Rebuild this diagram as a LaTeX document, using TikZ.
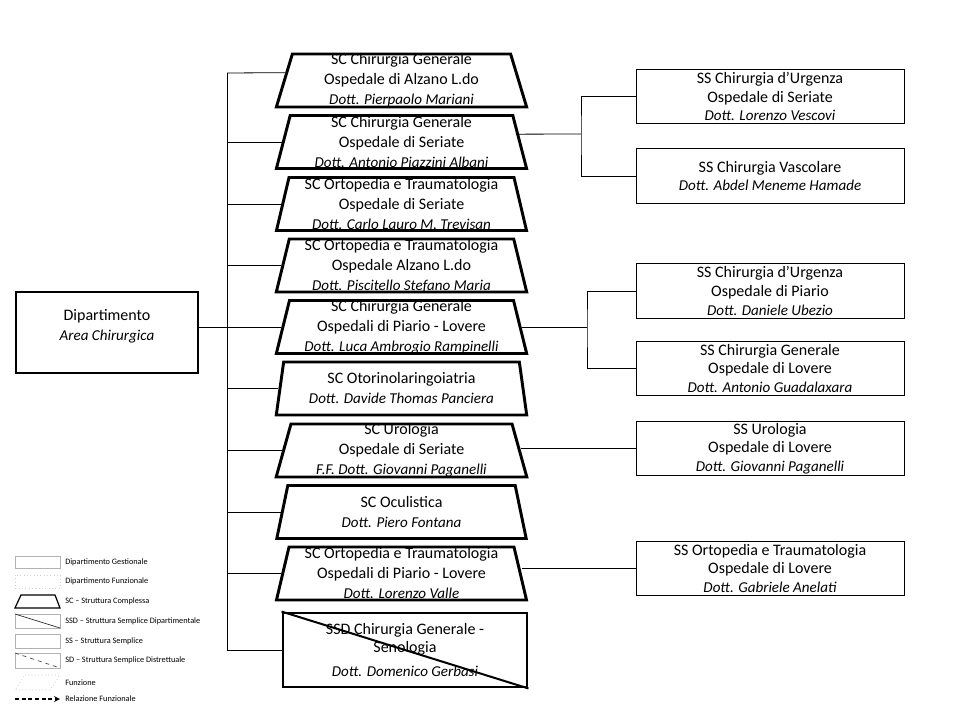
\documentclass[tikz,border=0pt]{standalone}
\usepackage{fontspec}
\setmainfont{Carlito}
\usetikzlibrary{shapes.geometric,calc}
\newcommand{\medico}[1]{{\fontsize{11.3}{14}\selectfont\itshape #1}}
\tikzset{
    sc-box/.style = {draw, line width=2.2pt, trapezium, trapezium stretches=true, trapezium angle=76, minimum width=188pt, minimum height=39.75pt, inner xsep=0pt, inner ysep=-3pt, align=center, font=\fontsize{12}{15}\selectfont, execute at begin node={\rule{0pt}{13pt}}},
    ssd-box/.style = {draw, line width=2.2pt, rectangle, minimum width=183pt, minimum height=55.5pt, inner sep=0pt, align=center},
    ss-box/.style = {draw, line width=0.75pt, rectangle, minimum width=201pt, minimum height=41pt, inner xsep=0pt, inner ysep=0pt, align=center},
    dept-box/.style = {draw, line width=2.2pt, rectangle, minimum width=136.5pt, minimum height=60.75pt, align=center},
    link/.style = {line width=0.6pt},
    legend-shape/.style = {draw=gray!60, line width=0.5pt},
    legend-text/.style = {anchor=west, inner sep=0pt, font=\fontsize{6.2}{7}\selectfont},
}

\begin{document}
\begin{tikzpicture}[x=0.75pt, y=-0.75pt, font=\fontsize{12}{14}\selectfont]
\useasboundingbox (0,0) rectangle (960,720);

% dipartimento
\node[dept-box] (dept) at (107,332.5) {Dipartimento\\[1pt]\medico{Area Chirurgica}\\[-2pt]\mbox{}};

% strutture complesse
\node[sc-box] (chir-alzano) at (401.5,80.5) {SC Chirurgia Generale\\Ospedale di Alzano L.do\\\medico{Dott. Pierpaolo Mariani}};
\node[sc-box] (chir-seriate) at (401.5,142) {SC Chirurgia Generale\\Ospedale di Seriate\\\medico{Dott. Antonio Piazzini Albani}};
\node[sc-box] (orto-seriate) at (401.5,204) {SC Ortopedia e Traumatologia\\Ospedale di Seriate\\\medico{Dott. Carlo Lauro M. Trevisan}};
\node[sc-box] (orto-alzano) at (401.5,265.5) {SC Ortopedia e Traumatologia\\Ospedale Alzano L.do\\\medico{Dott. Piscitello Stefano Maria}};
\node[sc-box] (chir-piario) at (401.5,327) {SC Chirurgia Generale\\Ospedali di Piario - Lovere\\\medico{Dott. Luca Ambrogio Rampinelli}};
\node[sc-box] (otorino) at (401.5,388.5) {SC Otorinolaringoiatria\\\medico{Dott. Davide Thomas Panciera}};
\node[sc-box] (uro-seriate) at (401.5,450.5) {SC Urologia\\Ospedale di Seriate\\\medico{F.F. Dott. Giovanni Paganelli}};
\node[sc-box] (oculistica) at (401.5,512) {SC Oculistica\\\medico{Dott. Piero Fontana}};
\node[sc-box] (orto-piario) at (401.5,573.5) {SC Ortopedia e Traumatologia\\Ospedali di Piario - Lovere\\\medico{Dott. Lorenzo Valle}};
\node[ssd-box] (senologia) at (405,650) {SSD Chirurgia Generale -\\Senologia\\[4pt]\medico{Dott. Domenico Gerbasi}};
\draw[line width=1.5pt] (senologia.north west) -- (senologia.south east);

% strutture semplici
\node[ss-box] (urg-seriate) at (770,96.5) {SS Chirurgia d’Urgenza\\Ospedale di Seriate\\\medico{Dott. Lorenzo Vescovi}};
\node[ss-box] (vascolare) at (770,176) {SS Chirurgia Vascolare\\\medico{Dott. Abdel Meneme Hamade}};
\node[ss-box] (urg-piario) at (770,291) {SS Chirurgia d’Urgenza\\Ospedale di Piario\\\medico{Dott. Daniele Ubezio}};
\node[ss-box] (chir-lovere) at (770,368.5) {SS Chirurgia Generale\\Ospedale di Lovere\\\medico{Dott. Antonio Guadalaxara}};
\node[ss-box] (uro-lovere) at (770,448.5) {SS Urologia\\Ospedale di Lovere\\\medico{Dott. Giovanni Paganelli}};
\node[ss-box] (orto-lovere) at (770,568.5) {SS Ortopedia e Traumatologia\\Ospedale di Lovere\\\medico{Dott. Gabriele Anelati}};

% collegamenti
\coordinate (spine-top) at (227,73);
\draw[link] (spine-top) -- ($(chir-alzano.top left corner)!0.36!(chir-alzano.bottom left corner)$);
\draw[link] (spine-top) -- (spine-top |- senologia.west) -- (senologia.west);
\foreach \n in {chir-seriate, orto-seriate, orto-alzano, chir-piario, otorino, uro-seriate, oculistica, orto-piario}
    \draw[link] (\n.left side) -- (\n.left side -| spine-top);
\draw[link] (dept.east |- chir-piario.left side) -- (chir-piario.left side);

\coordinate (branch-seriate) at (581,134);
\draw[link] ($(chir-seriate.top right corner)!0.36!(chir-seriate.bottom right corner)$) -- (branch-seriate);
\draw[link] (urg-seriate.west) -| (branch-seriate) |- (vascolare.west);

\coordinate (branch-piario) at (587,327);
\draw[link] (chir-piario.right side) -- (chir-piario.right side -| branch-piario);
\draw[link] (urg-piario.west) -| (branch-piario) |- (chir-lovere.west);

\draw[link] (uro-lovere.west) -- (uro-lovere.west -| uro-seriate.right side);
\draw[link] (orto-lovere.west) -- (orto-lovere.west -| orto-piario.right side);

% legenda
\draw[legend-shape] (15,556) rectangle (60,568);
\node[legend-text] (leg-gest) at (65,562) {Dipartimento Gestionale};
\draw[legend-shape, draw=gray!35, dotted] (15,575) rectangle (60,588);
\node[legend-text] (leg-funz) at (65,581.5) {Dipartimento Funzionale};
\draw[line width=0.9pt] (21,595) -- (55,595) -- (60,608) -- (15,608) -- cycle;
\node[legend-text] (leg-sc) at (65,601.5) {SC – Struttura Complessa};
\draw[legend-shape] (15,614) rectangle (60,628);
\draw[line width=0.5pt, gray!30!black] (15,614) -- (60,628);
\node[legend-text] (leg-ssd) at (65,621) {SSD – Struttura Semplice Dipartimentale};
\draw[legend-shape] (15,634) rectangle (60,648);
\node[legend-text] (leg-ss) at (65,641) {SS – Struttura Semplice};
\draw[legend-shape] (15,653) rectangle (60,668);
\draw[line width=0.5pt, gray!60!black, dashed] (15,653) -- (60,668);
\node[legend-text] (leg-sd) at (65,660.5) {SD – Struttura Semplice Distrettuale};
\draw[legend-shape, dotted] (25,675) -- (60,675) -- (50,690) -- (15,690) -- cycle;
\node[legend-text] (leg-fun) at (65,682.5) {Funzione};
\draw[line width=1pt, dash pattern=on 3pt off 2pt, -stealth] (15,699) -- (60,699);
\node[legend-text] (leg-rel) at (65,699) {Relazione Funzionale};
\end{tikzpicture}
\end{document}
